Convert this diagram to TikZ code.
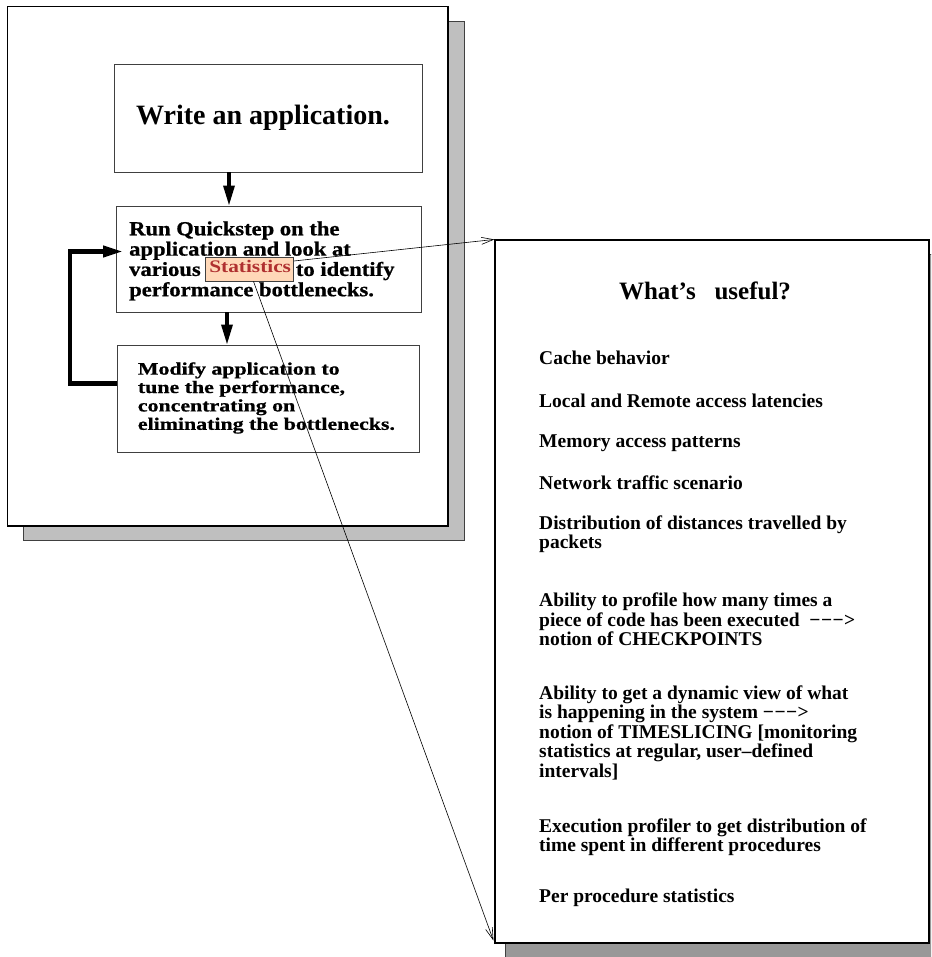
\documentclass[tikz,border=0pt]{standalone}
\usepackage{fontspec}
\setmainfont{Liberation Serif}
\newfontfamily\boxfontA[FakeStretch=1.13,FakeBold=0.8]{Liberation Serif}
\newfontfamily\boxfontB[FakeStretch=1.25,FakeBold=0.8]{Liberation Serif}
\newfontfamily\statfont[FakeStretch=1.21]{Liberation Serif}
\usetikzlibrary{arrows.meta,fit}
\definecolor{shadowA}{HTML}{BFBFBF}
\definecolor{shadowB}{HTML}{989898}
\definecolor{peach}{HTML}{FFD8B8}
\definecolor{statred}{HTML}{B03030}
\definecolor{edgegray}{HTML}{404040}
\newcommand{\darr}{−\kern0.5pt−\kern0.5pt−\kern0.3pt>}
\begin{document}
\begin{tikzpicture}[x=1pt,y=-1pt,
  page/.style={draw=black,fill=white,inner sep=0pt,line width=1.1pt},
  shade/.style={draw=edgegray,inner sep=0pt,line width=0.9pt},
  flowbox/.style={draw=edgegray,fill=white,inner sep=0pt,line width=0.9pt},
  txt/.style={anchor=base west,inner sep=0pt},
  item/.style={anchor=base west,inner sep=0pt,font=\bfseries\fontsize{19.5}{19.5}\selectfont},
  bigarrow/.style={line width=3.3pt,-{Triangle[length=20pt,width=11pt]}},
  fbarrow/.style={line width=4.3pt,-{Triangle[length=20pt,width=11pt]}},
  thinarrow/.style={line width=0.6pt,-{Straight Barb[length=12pt,width=7pt,line width=0.6pt]}}
]
\useasboundingbox (0,0) rectangle (931,957);
\clip (0,0) rectangle (931,957);
\fill[white] (0,0) rectangle (931,957);

% left page with shadow
\node[shade,fill=shadowA,fit={(23,21) (464,540)}] (lpshadow) {};
\node[page,fit={(7.3,6.3) (448,526)}] (lp) {};

% right page with shadow
\node[shade,fill=shadowB,fit={(505,254) (950,975)}] (rpshadow) {};
\node[page,fit={(495,240) (929,943)}] (rp) {};

% flow boxes
\node[flowbox,fit={(114,64) (422,172)}] (b1) {};
\node[flowbox,fit={(116.5,206) (421,312)}] (b2) {};
\node[flowbox,fit={(117,345) (419,452.5)}] (b3) {};

\node[anchor=base,inner sep=0pt,font=\bfseries\fontsize{28}{30}\selectfont] (t1) at (263,125) {Write an application.};

\node[txt] (t2) at (129,235.3) {\boxfontA\bfseries\fontsize{20}{20.3}\selectfont
  \begin{tabular}[t]{@{}l@{}}Run Quickstep on the\\application and look at\\\makebox[166.7pt][l]{various}to identify\\performance bottlenecks.\end{tabular}};

\node[txt] (t3) at (137.7,374.6) {\boxfontB\bfseries\fontsize{17.5}{18.4}\selectfont
  \begin{tabular}[t]{@{}l@{}}Modify application to\\tune the performance,\\concentrating on\\eliminating the bottlenecks.\end{tabular}};

% Statistics highlight
\node[draw=edgegray,fill=peach,line width=0.8pt,inner sep=0pt,fit={(205.5,257) (293.5,281)}] (stat) {};
\node[anchor=base,inner sep=0pt,text=statred] (statt) at (250.2,272.7) {\statfont\bfseries\fontsize{17.6}{18}\selectfont Statistics};

% flow arrows
\coordinate (ax1) at (229,0);
\coordinate (ax2) at (227,0);
\draw[bigarrow] (b1.south -| ax1) -- (b2.north -| ax1);
\draw[bigarrow] (b2.south -| ax2) -- (b3.north -| ax2);
\coordinate (fbs) at (0,383.4);
\coordinate (fbc) at (70,251.5);
\coordinate (fbt) at (123,251.5);
\draw[fbarrow] (b3.west |- fbs) -| (fbc) -- (fbt);

% right page text
\node[anchor=base,inner sep=0pt,font=\bfseries\fontsize{25}{30}\selectfont] (title) at (705,299) {What’s \ \ useful?};
\node[item] (i1) at (539,364) {Cache behavior};
\node[item] (i2) at (539,407) {Local and Remote access latencies};
\node[item] (i3) at (539,447) {Memory access patterns};
\node[item] (i4) at (539,489) {Network traffic scenario};
\node[item] (i5) at (539,529) {\begin{tabular}[t]{@{}l@{}}Distribution of distances travelled by\\packets\end{tabular}};
\node[item] (i6) at (539,606.7) {\begin{tabular}[t]{@{}l@{}}Ability to profile how many times a\\piece of code has been executed \ \darr\\notion of CHECKPOINTS\end{tabular}};
\node[item] (i7) at (539,699) {\begin{tabular}[t]{@{}l@{}}Ability to get a dynamic view of what\\is happening in the system \darr\\notion of TIMESLICING [monitoring\\statistics at regular, user–defined\\intervals]\end{tabular}};
\node[item] (i8) at (539,832) {\begin{tabular}[t]{@{}l@{}}Execution profiler to get distribution of\\time spent in different procedures\end{tabular}};
\node[item] (i9) at (539,902) {Per procedure statistics};

% thin connectors
\draw[thinarrow] ([yshift=8pt]stat.east) -- (rp.north west);
\draw[thinarrow] ([xshift=4pt]stat.south) -- ([yshift=3pt,xshift=-1pt]rp.south west);
\end{tikzpicture}
\end{document}
